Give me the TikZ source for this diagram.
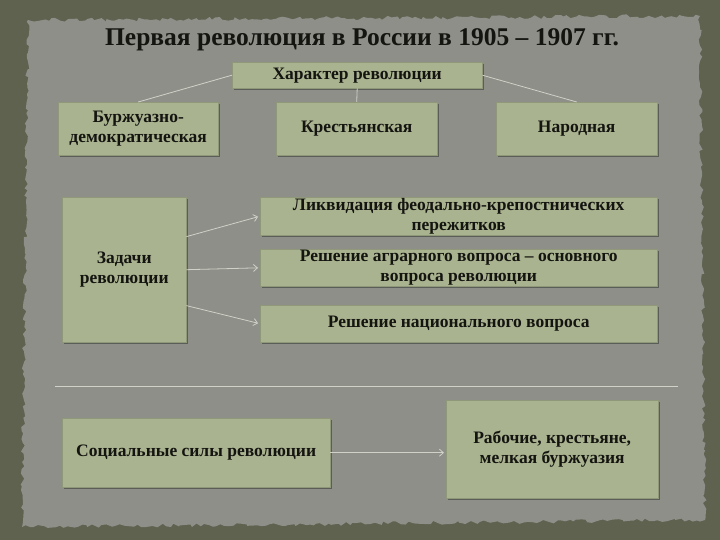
\documentclass[tikz,border=0pt]{standalone}
\usepackage{fontspec}
\setmainfont{Liberation Serif}
\usetikzlibrary{arrows.meta,shadows,calc,decorations.pathmorphing}
\definecolor{outerbg}{HTML}{5E624F}
\definecolor{paper}{HTML}{8D8F88}
\definecolor{boxfill}{HTML}{A9B38F}
\definecolor{linec}{HTML}{D0D2C8}
\definecolor{txt}{HTML}{141410}
\tikzset{
  box/.style={fill=boxfill, draw=boxfill!85!black, line width=0.4pt, anchor=north west,
    align=center, inner sep=1pt, text=txt, font=\bfseries\fontsize{17.5}{20}\selectfont,
    drop shadow={shadow xshift=2pt, shadow yshift=-2pt, opacity=0.35, fill=black}},
  conn/.style={draw=linec, line width=0.8pt},
  arr/.style={conn, -{Straight Barb[length=4pt,width=7pt]}, shorten >=2pt}
}
\begin{document}
\begin{tikzpicture}[x=1pt,y=-1pt]
\useasboundingbox (0,0) rectangle (720,540);
\fill[outerbg] (0,0) rectangle (720,540);
\fill[paper, decorate, decoration={random steps, segment length=4pt, amplitude=2pt}]
  (28,20) -- (700,16) -- (705,520) -- (22,527) -- cycle;
\node[font=\bfseries\fontsize{25.5}{30}\selectfont, text=txt] (title) at (362,40) {Первая революция в России в 1905 – 1907 гг.};
\node[box, minimum width=250pt, minimum height=26pt] (char) at (232,62) {Характер революции};
\node[box, minimum width=160pt, minimum height=53pt] (burzh) at (58,102) {Буржуазно-\\демократическая};
\node[box, minimum width=161pt, minimum height=53pt] (krest) at (276,102) {Крестьянская};
\node[box, minimum width=161pt, minimum height=53pt] (narod) at (496,102) {Народная};
\draw[conn] (char.west) -- (burzh.north);
\draw[conn] (char.south) -- (krest.north);
\draw[conn] (char.east) -- (narod.north);
\node[box, minimum width=124pt, minimum height=145pt] (zad) at (62,197) {Задачи\\революции};
\node[box, minimum width=397pt, minimum height=38pt] (liq) at (260,197) {Ликвидация феодально-крепостнических\\пережитков};
\node[box, minimum width=397pt, minimum height=36pt] (agr) at (260,249) {Решение аграрного вопроса – основного\\вопроса революции};
\node[box, minimum width=397pt, minimum height=37pt] (nat) at (260,305) {Решение национального вопроса};
\draw[arr] (zad.28) -- (liq.west);
\draw[arr] (zad.east) -- (agr.west);
\draw[arr] (zad.-30) -- (nat.west);
\coordinate (hl1) at (55,386);
\coordinate (hl2) at (678,386);
\draw[conn] (hl1) -- (hl2);
\node[box, minimum width=268pt, minimum height=69pt] (soc) at (62,418) {Социальные силы революции};
\node[box, minimum width=212pt, minimum height=98pt] (rab) at (446,400) {Рабочие, крестьяне,\\мелкая буржуазия};
\draw[arr] (soc.east) -- (soc.east -| rab.west);
\end{tikzpicture}
\end{document}
